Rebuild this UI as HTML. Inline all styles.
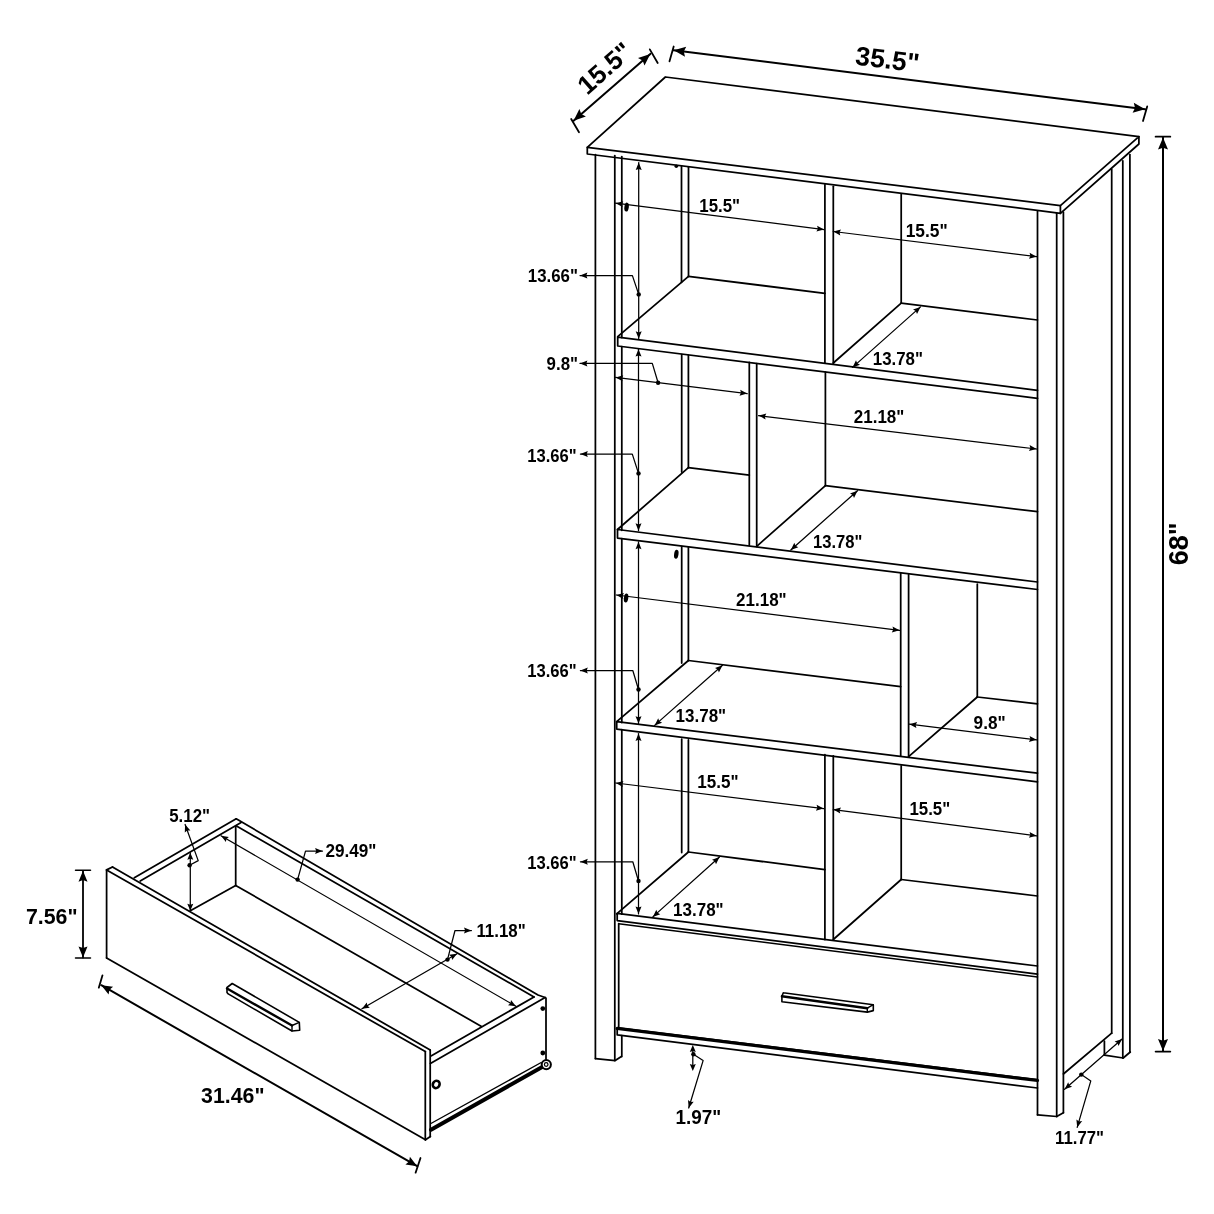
<!DOCTYPE html>
<html><head><meta charset="utf-8"><style>
html,body{margin:0;padding:0;background:#fff;}
svg{display:block;filter:grayscale(1);}
text{font-family:"Liberation Sans",sans-serif;font-weight:bold;fill:#000;stroke:none;}
</style></head><body>
<svg width="1214" height="1214" viewBox="0 0 1214 1214">
<rect width="1214" height="1214" fill="#fff"/>
<g stroke="#000" stroke-linecap="round" stroke-linejoin="round" fill="none">
<polygon points="587.3,147.3 665.4,77.0 1138.9,136.7 1060.4,205.7" stroke-width="1.75" fill="none"/>
<polyline points="587.3,147.3 587.3,154.0 1060.4,213.3 1060.4,205.7" stroke-width="1.75" fill="none"/>
<polyline points="1060.4,213.3 1138.9,144.0 1138.9,136.7" stroke-width="1.75" fill="none"/>
<line x1="595.4" y1="154.5" x2="595.4" y2="1058.6" stroke-width="1.75"/>
<polyline points="595.4,1058.6 615.2,1060.6 621.4,1056.5" stroke-width="1.75" fill="none"/>
<line x1="614.8" y1="155.5" x2="614.8" y2="1060.6" stroke-width="1.75"/>
<line x1="621.8" y1="156.5" x2="621.8" y2="337.5" stroke-width="1.75"/>
<line x1="621.8" y1="346.5" x2="621.8" y2="530.3" stroke-width="1.75"/>
<line x1="621.8" y1="538.6" x2="621.8" y2="722.5" stroke-width="1.75"/>
<line x1="621.8" y1="729.6" x2="621.8" y2="914.2" stroke-width="1.75"/>
<line x1="621.8" y1="1035.5" x2="621.8" y2="1056.5" stroke-width="1.75"/>
<line x1="1037.5" y1="211.5" x2="1037.5" y2="1114.8" stroke-width="1.75"/>
<line x1="1056.7" y1="213.3" x2="1056.7" y2="1116.5" stroke-width="1.75"/>
<line x1="1063.4" y1="212.0" x2="1063.4" y2="1112.7" stroke-width="1.75"/>
<polyline points="1037.5,1114.8 1056.7,1116.5 1063.4,1112.7" stroke-width="1.75" fill="none"/>
<line x1="1111.7" y1="169.0" x2="1111.7" y2="1033.2" stroke-width="1.75"/>
<line x1="1122.8" y1="160.8" x2="1122.8" y2="1058.0" stroke-width="1.75"/>
<line x1="1129.9" y1="154.5" x2="1129.9" y2="1052.0" stroke-width="1.75"/>
<polyline points="1063.4,1074.0 1111.7,1033.2" stroke-width="1.75" fill="none"/>
<line x1="1104.4" y1="1041.0" x2="1104.4" y2="1055.2" stroke-width="1.75"/>
<polyline points="1104.4,1055.2 1123.2,1058.0 1130.3,1052.0" stroke-width="1.75" fill="none"/>
<line x1="681.5" y1="166.0" x2="681.5" y2="282.3" stroke-width="1.75"/>
<line x1="688.5" y1="167.2" x2="688.5" y2="276.4" stroke-width="1.75"/>
<line x1="824.9" y1="184.6" x2="824.9" y2="363.0" stroke-width="1.75"/>
<line x1="833.3" y1="186.3" x2="833.3" y2="363.7" stroke-width="1.75"/>
<line x1="901.2" y1="194.5" x2="901.2" y2="303.2" stroke-width="1.75"/>
<line x1="688.5" y1="276.4" x2="824.9" y2="293.3" stroke-width="1.75"/>
<line x1="901.2" y1="303.2" x2="1037.5" y2="320.0" stroke-width="1.75"/>
<line x1="901.2" y1="303.2" x2="833.3" y2="363.0" stroke-width="1.75"/>
<line x1="688.5" y1="276.4" x2="617.7" y2="336.7" stroke-width="1.75"/>
<polyline points="1037.5,390.4 617.7,337.2 617.7,346.0 1037.5,398.4" stroke-width="1.75" fill="none"/>
<line x1="681.7" y1="354.5" x2="681.7" y2="472.0" stroke-width="1.75"/>
<line x1="688.4" y1="355.4" x2="688.4" y2="467.7" stroke-width="1.75"/>
<line x1="749.3" y1="362.4" x2="749.3" y2="545.0" stroke-width="1.75"/>
<line x1="756.7" y1="363.6" x2="756.7" y2="546.3" stroke-width="1.75"/>
<line x1="825.4" y1="372.0" x2="825.4" y2="485.7" stroke-width="1.75"/>
<line x1="688.4" y1="467.7" x2="749.3" y2="475.1" stroke-width="1.75"/>
<line x1="825.4" y1="485.7" x2="1037.5" y2="511.7" stroke-width="1.75"/>
<line x1="825.4" y1="485.7" x2="756.7" y2="546.3" stroke-width="1.75"/>
<line x1="688.4" y1="467.7" x2="617.5" y2="529.5" stroke-width="1.75"/>
<polyline points="1037.5,582.0 617.5,529.5 617.5,538.1 1037.5,589.5" stroke-width="1.75" fill="none"/>
<line x1="681.7" y1="546.5" x2="681.7" y2="663.0" stroke-width="1.75"/>
<line x1="688.4" y1="547.4" x2="688.4" y2="660.5" stroke-width="1.75"/>
<line x1="900.7" y1="573.4" x2="900.7" y2="756.0" stroke-width="1.75"/>
<line x1="908.6" y1="574.7" x2="908.6" y2="757.2" stroke-width="1.75"/>
<line x1="977.3" y1="584.0" x2="977.3" y2="697.0" stroke-width="1.75"/>
<line x1="688.4" y1="660.5" x2="900.7" y2="686.6" stroke-width="1.75"/>
<line x1="977.3" y1="697.0" x2="1037.5" y2="703.9" stroke-width="1.75"/>
<line x1="977.3" y1="697.0" x2="908.6" y2="756.7" stroke-width="1.75"/>
<line x1="688.4" y1="660.5" x2="616.7" y2="721.7" stroke-width="1.75"/>
<polyline points="1037.5,773.2 616.7,721.7 616.7,729.1 1037.5,781.9" stroke-width="1.75" fill="none"/>
<line x1="681.7" y1="739.0" x2="681.7" y2="852.6" stroke-width="1.75"/>
<line x1="688.4" y1="739.9" x2="688.4" y2="852.0" stroke-width="1.75"/>
<line x1="824.9" y1="754.7" x2="824.9" y2="939.5" stroke-width="1.75"/>
<line x1="833.3" y1="755.8" x2="833.3" y2="939.5" stroke-width="1.75"/>
<line x1="901.2" y1="765.8" x2="901.2" y2="879.5" stroke-width="1.75"/>
<line x1="688.4" y1="852.0" x2="824.9" y2="869.6" stroke-width="1.75"/>
<line x1="901.2" y1="879.5" x2="1037.5" y2="896.0" stroke-width="1.75"/>
<line x1="901.2" y1="879.5" x2="833.3" y2="939.5" stroke-width="1.75"/>
<line x1="688.4" y1="852.0" x2="616.7" y2="913.9" stroke-width="1.75"/>
<polyline points="1037.5,966.0 617.2,913.4 617.2,920.6 1037.5,974.1" stroke-width="1.75" fill="none"/>
<line x1="618.7" y1="923.7" x2="1037.5" y2="977.0" stroke-width="1.6"/>
<line x1="618.7" y1="923.7" x2="618.7" y2="1027.7" stroke-width="1.75"/>
<polyline points="1037.5,1079.7 617.2,1027.7 617.2,1034.9 1037.5,1088.0" stroke-width="1.75" fill="none"/>
<line x1="617.2" y1="1028.5" x2="1037.5" y2="1080.5" stroke-width="3.2"/>
<polyline points="783.3,992.8 873.3,1004.7 873.3,1010.6 867.3,1012.1 781.9,1001.7 781.9,996.3 783.3,992.8" stroke-width="1.6" fill="none"/>
<line x1="781.9" y1="996.3" x2="867.3" y2="1008.2" stroke-width="2.4"/>
<line x1="867.3" y1="1008.2" x2="873.3" y2="1004.7" stroke-width="1.4"/>
<line x1="867.3" y1="1008.2" x2="867.3" y2="1012.1" stroke-width="1.4"/>
<line x1="573.6" y1="120.7" x2="650.3" y2="53.9" stroke-width="2.0"/>
<polygon points="650.3,53.9 644.5,65.6 642.6,60.6 638.0,58.0" fill="#000" stroke="none"/>
<polygon points="573.6,120.7 579.4,109.0 581.3,114.0 585.9,116.6" fill="#000" stroke="none"/>
<line x1="571.2" y1="119.0" x2="579.0" y2="132.2" stroke-width="1.8"/>
<line x1="649.8" y1="49.4" x2="657.7" y2="63.0" stroke-width="1.8"/>
<text x="0" y="0" font-size="26" text-anchor="middle" transform="translate(604.5,67.8) rotate(-41.50) translate(0,9.4)">15.5&quot;</text>
<line x1="673.7" y1="50.3" x2="1145.1" y2="109.3" stroke-width="2.0"/>
<polygon points="1145.1,109.3 1132.6,112.8 1135.0,108.0 1133.8,102.8" fill="#000" stroke="none"/>
<polygon points="673.7,50.3 686.2,46.8 683.8,51.6 685.0,56.8" fill="#000" stroke="none"/>
<line x1="669.5" y1="61.3" x2="673.7" y2="46.5" stroke-width="1.8"/>
<line x1="1147.2" y1="106.4" x2="1143.0" y2="121.0" stroke-width="1.8"/>
<text x="0" y="0" font-size="26.5" text-anchor="middle" transform="translate(887.5,59.0) rotate(7.00) translate(0,9.5)">35.5&quot;</text>
<line x1="1163.0" y1="137.5" x2="1163.0" y2="1051.0" stroke-width="2.0"/>
<polygon points="1163.0,1051.0 1158.0,1039.0 1163.0,1040.8 1168.0,1039.0" fill="#000" stroke="none"/>
<polygon points="1163.0,137.5 1168.0,149.5 1163.0,147.7 1158.0,149.5" fill="#000" stroke="none"/>
<line x1="1155.6" y1="136.7" x2="1170.3" y2="136.7" stroke-width="1.8"/>
<line x1="1155.6" y1="1051.6" x2="1170.3" y2="1051.6" stroke-width="1.8"/>
<text x="0" y="0" font-size="27" text-anchor="middle" transform="translate(1178.5,543.8) rotate(-90.00) translate(0,9.7)">68&quot;</text>
<line x1="615.6" y1="203.2" x2="824.1" y2="229.6" stroke-width="1.25"/>
<polygon points="824.1,229.6 816.4,231.6 817.9,228.8 817.1,225.7" fill="#000" stroke="none"/>
<polygon points="615.6,203.2 623.3,201.2 621.8,204.0 622.6,207.1" fill="#000" stroke="none"/>
<ellipse cx="626.6" cy="207.1" rx="2.2" ry="4.5" transform="rotate(8 626.6 207.1)" fill="#000" stroke="none"/>
<text x="0" y="0" font-size="16.86" transform="translate(699.30,212.20) scale(1,1.07)">15.5&quot;</text>
<line x1="833.3" y1="231.5" x2="1036.6" y2="256.7" stroke-width="1.25"/>
<polygon points="1036.6,256.7 1028.9,258.8 1030.4,255.9 1029.6,252.8" fill="#000" stroke="none"/>
<polygon points="833.3,231.5 841.0,229.4 839.5,232.3 840.3,235.4" fill="#000" stroke="none"/>
<text x="0" y="0" font-size="17.36" transform="translate(905.70,236.50) scale(1,1.07)">15.5&quot;</text>
<line x1="852.5" y1="367.4" x2="920.5" y2="306.9" stroke-width="1.25"/>
<polygon points="920.5,306.9 917.0,314.1 915.8,311.1 913.0,309.6" fill="#000" stroke="none"/>
<polygon points="852.5,367.4 856.0,360.2 857.2,363.2 860.0,364.7" fill="#000" stroke="none"/>
<text x="0" y="0" font-size="16.86" transform="translate(872.80,365.00) scale(1,1.07)">13.78&quot;</text>
<line x1="638.7" y1="162.6" x2="638.7" y2="338.7" stroke-width="1.25"/>
<polygon points="638.7,338.7 635.7,331.3 638.7,332.4 641.7,331.3" fill="#000" stroke="none"/>
<polygon points="638.7,162.6 641.7,170.0 638.7,168.9 635.7,170.0" fill="#000" stroke="none"/>
<polyline points="638.7,294.4 632.4,275.6 580.0,275.6" stroke-width="1.25" fill="none"/>
<polygon points="580.0,275.6 587.4,272.6 586.3,275.6 587.4,278.6" fill="#000" stroke="none"/>
<circle cx="638.7" cy="294.4" r="2.2" fill="#000" stroke="none"/>
<text x="0" y="0" font-size="16.86" transform="translate(527.80,282.30) scale(1,1.07)">13.66&quot;</text>
<circle cx="676.3" cy="166.2" r="1.8" fill="#000" stroke="none"/>
<line x1="615.6" y1="377.4" x2="747.2" y2="393.6" stroke-width="1.25"/>
<polygon points="747.2,393.6 739.5,395.7 741.0,392.8 740.2,389.7" fill="#000" stroke="none"/>
<polygon points="615.6,377.4 623.3,375.3 621.8,378.2 622.6,381.3" fill="#000" stroke="none"/>
<polyline points="658.1,382.7 652.3,363.4 580.0,363.4" stroke-width="1.25" fill="none"/>
<polygon points="580.0,363.4 587.4,360.4 586.3,363.4 587.4,366.4" fill="#000" stroke="none"/>
<circle cx="658.1" cy="382.7" r="2.2" fill="#000" stroke="none"/>
<text x="0" y="0" font-size="16.85" transform="translate(546.60,370.00) scale(1,1.07)">9.8&quot;</text>
<line x1="758.6" y1="415.6" x2="1036.6" y2="449.0" stroke-width="1.25"/>
<polygon points="1036.6,449.0 1028.9,451.1 1030.4,448.2 1029.6,445.1" fill="#000" stroke="none"/>
<polygon points="758.6,415.6 766.3,413.5 764.8,416.4 765.6,419.5" fill="#000" stroke="none"/>
<text x="0" y="0" font-size="17.00" transform="translate(853.80,423.00) scale(1,1.07)">21.18&quot;</text>
<line x1="790.8" y1="550.0" x2="857.5" y2="490.7" stroke-width="1.25"/>
<polygon points="857.5,490.7 854.0,497.9 852.8,494.9 850.0,493.4" fill="#000" stroke="none"/>
<polygon points="790.8,550.0 794.3,542.8 795.5,545.8 798.3,547.3" fill="#000" stroke="none"/>
<text x="0" y="0" font-size="16.59" transform="translate(813.00,547.50) scale(1,1.07)">13.78&quot;</text>
<line x1="638.5" y1="349.2" x2="638.5" y2="530.7" stroke-width="1.25"/>
<polygon points="638.5,530.7 635.5,523.3 638.5,524.4 641.5,523.3" fill="#000" stroke="none"/>
<polygon points="638.5,349.2 641.5,356.6 638.5,355.5 635.5,356.6" fill="#000" stroke="none"/>
<polyline points="638.5,473.4 632.3,454.1 580.4,454.1" stroke-width="1.25" fill="none"/>
<polygon points="580.4,454.1 587.8,451.1 586.7,454.1 587.8,457.1" fill="#000" stroke="none"/>
<circle cx="638.5" cy="473.4" r="2.2" fill="#000" stroke="none"/>
<text x="0" y="0" font-size="16.59" transform="translate(527.30,461.50) scale(1,1.07)">13.66&quot;</text>
<line x1="616.3" y1="595.0" x2="899.5" y2="630.3" stroke-width="1.25"/>
<polygon points="899.5,630.3 891.8,632.4 893.3,629.5 892.5,626.4" fill="#000" stroke="none"/>
<polygon points="616.3,595.0 624.0,592.9 622.5,595.8 623.3,598.9" fill="#000" stroke="none"/>
<ellipse cx="626.1" cy="598" rx="2.2" ry="4.5" transform="rotate(8 626.1 598)" fill="#000" stroke="none"/>
<ellipse cx="676.3" cy="554.2" rx="2.2" ry="4.5" transform="rotate(8 676.3 554.2)" fill="#000" stroke="none"/>
<text x="0" y="0" font-size="17.00" transform="translate(736.10,606.00) scale(1,1.07)">21.18&quot;</text>
<line x1="654.6" y1="725.4" x2="722.5" y2="665.3" stroke-width="1.25"/>
<polygon points="722.5,665.3 718.9,672.5 717.8,669.5 715.0,668.0" fill="#000" stroke="none"/>
<polygon points="654.6,725.4 658.2,718.2 659.3,721.2 662.1,722.7" fill="#000" stroke="none"/>
<text x="0" y="0" font-size="17.00" transform="translate(675.60,721.70) scale(1,1.07)">13.78&quot;</text>
<line x1="909.4" y1="724.2" x2="1036.6" y2="739.8" stroke-width="1.25"/>
<polygon points="1036.6,739.8 1028.9,741.9 1030.4,739.0 1029.6,735.9" fill="#000" stroke="none"/>
<polygon points="909.4,724.2 917.1,722.1 915.6,725.0 916.4,728.1" fill="#000" stroke="none"/>
<text x="0" y="0" font-size="17.22" transform="translate(973.60,729.10) scale(1,1.07)">9.8&quot;</text>
<line x1="638.5" y1="541.8" x2="638.5" y2="723.6" stroke-width="1.25"/>
<polygon points="638.5,723.6 635.5,716.2 638.5,717.3 641.5,716.2" fill="#000" stroke="none"/>
<polygon points="638.5,541.8 641.5,549.2 638.5,548.1 635.5,549.2" fill="#000" stroke="none"/>
<polyline points="638.5,689.5 632.8,670.5 580.4,670.5" stroke-width="1.25" fill="none"/>
<polygon points="580.4,670.5 587.8,667.5 586.7,670.5 587.8,673.5" fill="#000" stroke="none"/>
<circle cx="638.5" cy="689.5" r="2.2" fill="#000" stroke="none"/>
<text x="0" y="0" font-size="16.59" transform="translate(527.30,677.20) scale(1,1.07)">13.66&quot;</text>
<line x1="615.8" y1="783.0" x2="823.6" y2="808.6" stroke-width="1.25"/>
<polygon points="823.6,808.6 815.9,810.7 817.4,807.8 816.6,804.7" fill="#000" stroke="none"/>
<polygon points="615.8,783.0 623.5,780.9 622.0,783.8 622.8,786.9" fill="#000" stroke="none"/>
<text x="0" y="0" font-size="17.07" transform="translate(697.30,788.40) scale(1,1.07)">15.5&quot;</text>
<line x1="833.3" y1="809.6" x2="1036.6" y2="835.8" stroke-width="1.25"/>
<polygon points="1036.6,835.8 1028.9,837.8 1030.4,835.0 1029.6,831.9" fill="#000" stroke="none"/>
<polygon points="833.3,809.6 841.0,807.6 839.5,810.4 840.3,813.5" fill="#000" stroke="none"/>
<text x="0" y="0" font-size="16.86" transform="translate(909.40,815.20) scale(1,1.07)">15.5&quot;</text>
<line x1="652.8" y1="916.9" x2="719.5" y2="857.0" stroke-width="1.25"/>
<polygon points="719.5,857.0 716.0,864.2 714.8,861.2 712.0,859.7" fill="#000" stroke="none"/>
<polygon points="652.8,916.9 656.3,909.7 657.5,912.7 660.3,914.2" fill="#000" stroke="none"/>
<text x="0" y="0" font-size="17.00" transform="translate(673.10,915.60) scale(1,1.07)">13.78&quot;</text>
<line x1="638.5" y1="733.5" x2="638.5" y2="913.9" stroke-width="1.25"/>
<polygon points="638.5,913.9 635.5,906.5 638.5,907.6 641.5,906.5" fill="#000" stroke="none"/>
<polygon points="638.5,733.5 641.5,740.9 638.5,739.8 635.5,740.9" fill="#000" stroke="none"/>
<polyline points="638.5,881.0 632.8,861.8 580.4,861.8" stroke-width="1.25" fill="none"/>
<polygon points="580.4,861.8 587.8,858.8 586.7,861.8 587.8,864.8" fill="#000" stroke="none"/>
<circle cx="638.5" cy="881.0" r="2.2" fill="#000" stroke="none"/>
<text x="0" y="0" font-size="16.59" transform="translate(527.30,868.70) scale(1,1.07)">13.66&quot;</text>
<polygon points="692.8,1045.0 695.8,1052.0 692.8,1051.0 689.8,1052.0" fill="#000" stroke="none"/>
<line x1="692.8" y1="1048.0" x2="692.8" y2="1066.0" stroke-width="1.25"/>
<polygon points="692.8,1071.0 689.8,1064.0 692.8,1065.0 695.8,1064.0" fill="#000" stroke="none"/>
<polyline points="693.4,1054.3 703.1,1060.6 688.7,1108.0" stroke-width="1.25" fill="none"/>
<polygon points="688.7,1108.0 688.0,1100.0 690.5,1102.0 693.7,1101.8" fill="#000" stroke="none"/>
<circle cx="693.4" cy="1054.3" r="2.2" fill="#000" stroke="none"/>
<text x="0" y="0" font-size="18.88" transform="translate(675.40,1123.90) scale(1,1.07)">1.97&quot;</text>
<line x1="1064.6" y1="1089.3" x2="1122.1" y2="1039.0" stroke-width="1.25"/>
<polygon points="1122.1,1039.0 1118.5,1046.1 1117.4,1043.1 1114.6,1041.6" fill="#000" stroke="none"/>
<polygon points="1064.6,1089.3 1068.2,1082.2 1069.3,1085.2 1072.1,1086.7" fill="#000" stroke="none"/>
<polyline points="1081.3,1074.6 1090.8,1080.9 1077.2,1127.4" stroke-width="1.25" fill="none"/>
<polygon points="1077.2,1127.4 1076.4,1119.5 1079.0,1121.4 1082.2,1121.1" fill="#000" stroke="none"/>
<circle cx="1081.3" cy="1074.6" r="2.2" fill="#000" stroke="none"/>
<text x="0" y="0" font-size="16.78" transform="translate(1055.00,1144.00) scale(1,1.07)">11.77&quot;</text>
<line x1="106.6" y1="869.9" x2="106.6" y2="958.0" stroke-width="1.75"/>
<line x1="106.6" y1="869.9" x2="425.3" y2="1051.6" stroke-width="1.75"/>
<line x1="112.5" y1="867.0" x2="430.2" y2="1050.0" stroke-width="1.75"/>
<line x1="106.6" y1="869.9" x2="112.5" y2="867.0" stroke-width="1.75"/>
<line x1="106.6" y1="958.0" x2="425.5" y2="1139.8" stroke-width="1.75"/>
<line x1="425.3" y1="1051.6" x2="425.3" y2="1139.8" stroke-width="1.75"/>
<line x1="430.2" y1="1050.0" x2="430.2" y2="1136.5" stroke-width="1.75"/>
<line x1="425.5" y1="1139.8" x2="430.4" y2="1136.5" stroke-width="1.75"/>
<line x1="134.3" y1="877.8" x2="236.2" y2="818.8" stroke-width="1.75"/>
<line x1="140.2" y1="881.1" x2="241.1" y2="822.5" stroke-width="1.75"/>
<polyline points="236.2,818.8 538.0,995.0 545.1,997.5" stroke-width="1.75" fill="none"/>
<line x1="236.5" y1="826.0" x2="534.0" y2="997.0" stroke-width="1.75"/>
<line x1="534.0" y1="997.0" x2="431.0" y2="1055.9" stroke-width="1.75"/>
<line x1="545.1" y1="997.5" x2="430.4" y2="1063.4" stroke-width="1.75"/>
<line x1="546.0" y1="998.0" x2="546.0" y2="1059.0" stroke-width="1.75"/>
<line x1="430.9" y1="1123.5" x2="541.2" y2="1062.5" stroke-width="1.4"/>
<line x1="431.0" y1="1129.8" x2="541.7" y2="1067.2" stroke-width="4.0"/>
<circle cx="546.3" cy="1064.6" r="4.6" fill="#fff" stroke-width="2.0"/>
<circle cx="546.2" cy="1064.5" r="1.8" fill="none" stroke-width="1.2"/>
<circle cx="542.8" cy="1008.6" r="2.4" fill="#000" stroke="none"/>
<circle cx="542.8" cy="1053" r="2.4" fill="#000" stroke="none"/>
<ellipse cx="436.2" cy="1084.4" rx="3.3" ry="3.8" fill="none" stroke-width="2.6" transform="rotate(30 436.2 1084.4)"/>
<line x1="235.7" y1="826.4" x2="235.7" y2="885.4" stroke-width="1.75"/>
<line x1="235.7" y1="885.4" x2="481.5" y2="1026.5" stroke-width="1.75"/>
<line x1="235.7" y1="885.4" x2="190.3" y2="910.7" stroke-width="1.75"/>
<polyline points="232.2,983.5 299.3,1022.4 299.7,1030.2 292.0,1031.0 228.2,993.9 227.0,992.5 227.0,987.5 232.2,983.5" stroke-width="1.6" fill="none"/>
<line x1="227.0" y1="988.5" x2="292.0" y2="1025.5" stroke-width="2.4"/>
<line x1="292.0" y1="1025.5" x2="299.3" y2="1022.4" stroke-width="1.4"/>
<line x1="292.0" y1="1025.5" x2="292.0" y2="1031.0" stroke-width="1.4"/>
<line x1="190.3" y1="852.8" x2="190.3" y2="910.7" stroke-width="1.25"/>
<polygon points="190.3,910.7 187.3,903.7 190.3,904.8 193.3,903.7" fill="#000" stroke="none"/>
<polygon points="190.3,852.8 193.3,859.8 190.3,858.8 187.3,859.8" fill="#000" stroke="none"/>
<polyline points="189.6,865.2 198.2,860.6 185.1,824.5" stroke-width="1.25" fill="none"/>
<polygon points="185.1,824.5 190.4,830.4 187.2,830.4 184.8,832.5" fill="#000" stroke="none"/>
<circle cx="189.6" cy="865.2" r="2.2" fill="#000" stroke="none"/>
<text x="0" y="0" font-size="16.86" transform="translate(169.20,821.70) scale(1,1.07)">5.12&quot;</text>
<line x1="221.0" y1="835.8" x2="515.9" y2="1006.3" stroke-width="1.25"/>
<polygon points="515.9,1006.3 508.0,1005.2 510.5,1003.2 511.0,1000.0" fill="#000" stroke="none"/>
<polygon points="221.0,835.8 228.9,836.9 226.4,838.9 225.9,842.1" fill="#000" stroke="none"/>
<polyline points="297.6,879.6 305.5,851.1 322.5,851.1" stroke-width="1.25" fill="none"/>
<polygon points="322.5,851.1 315.1,854.1 316.2,851.1 315.1,848.1" fill="#000" stroke="none"/>
<circle cx="297.6" cy="879.6" r="2.2" fill="#000" stroke="none"/>
<text x="0" y="0" font-size="17.16" transform="translate(325.40,856.90) scale(1,1.03)">29.49&quot;</text>
<line x1="361.9" y1="1008.8" x2="457.0" y2="953.7" stroke-width="1.25"/>
<polygon points="457.0,953.7 452.1,960.0 451.6,956.9 449.1,954.8" fill="#000" stroke="none"/>
<polygon points="361.9,1008.8 366.8,1002.5 367.3,1005.6 369.8,1007.7" fill="#000" stroke="none"/>
<polyline points="447.5,959.6 455.0,930.5 471.4,930.5" stroke-width="1.25" fill="none"/>
<polygon points="471.4,930.5 464.0,933.5 465.1,930.5 464.0,927.5" fill="#000" stroke="none"/>
<circle cx="447.5" cy="959.6" r="2.2" fill="#000" stroke="none"/>
<text x="0" y="0" font-size="16.91" transform="translate(476.40,937.00) scale(1,1.07)">11.18&quot;</text>
<line x1="83.0" y1="870.8" x2="83.0" y2="957.5" stroke-width="1.8"/>
<polygon points="83.0,957.5 78.5,946.5 83.0,948.1 87.5,946.5" fill="#000" stroke="none"/>
<polygon points="83.0,870.8 87.5,881.8 83.0,880.1 78.5,881.8" fill="#000" stroke="none"/>
<line x1="75.5" y1="870.2" x2="90.5" y2="870.2" stroke-width="1.5"/>
<line x1="75.5" y1="957.9" x2="90.5" y2="957.9" stroke-width="1.5"/>
<text x="0" y="0" font-size="21.32" transform="translate(25.90,923.90) scale(1,1.0)">7.56&quot;</text>
<line x1="101.3" y1="985.2" x2="417.2" y2="1166.2" stroke-width="2.0"/>
<polygon points="417.2,1166.2 405.4,1164.6 409.1,1161.6 409.9,1156.8" fill="#000" stroke="none"/>
<polygon points="101.3,985.2 113.1,986.8 109.4,989.8 108.6,994.6" fill="#000" stroke="none"/>
<line x1="98.8" y1="987.7" x2="102.5" y2="975.3" stroke-width="1.8"/>
<line x1="415.6" y1="1172.7" x2="420.5" y2="1158.0" stroke-width="1.8"/>
<text x="0" y="0" font-size="21.30" transform="translate(201.10,1103.40) scale(1,1.0)">31.46&quot;</text>
</g>
</svg>
</body></html>
